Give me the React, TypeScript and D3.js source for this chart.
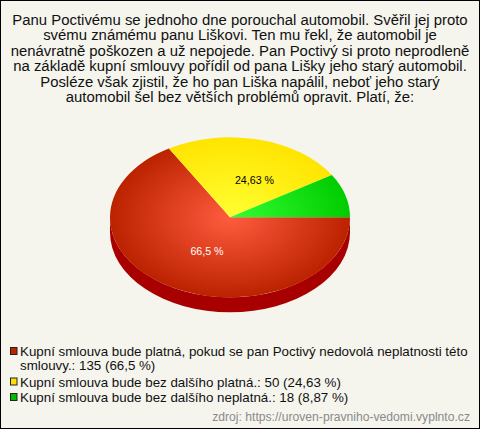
import React from "react";
import * as d3 from "d3";

const titleLines = [
  "Panu Poctivému se jednoho dne porouchal automobil. Svěřil jej proto",
  "svému známému panu Liškovi. Ten mu řekl, že automobil je",
  "nenávratně poškozen a už nepojede. Pan Poctivý si proto neprodleně",
  "na základě kupní smlouvy pořídil od pana Lišky jeho starý automobil.",
  "Posléze však zjistil, že ho pan Liška napálil, neboť jeho starý",
  "automobil šel bez větších problémů opravit. Platí, že:",
];
const values = [135, 50, 18];
const sliceLabels = ["66,5 %", "24,63 %", ""];
const legendLines = [
  ["Kupní smlouva bude platná, pokud se pan Poctivý nedovolá neplatnosti této", "smlouvy.: 135 (66,5 %)"],
  ["Kupní smlouva bude bez dalšího platná.: 50 (24,63 %)"],
  ["Kupní smlouva bude bez dalšího neplatná.: 18 (8,87 %)"],
];
const innerColors = ["#ff5c3e", "#ffff33", "#33ff33"];
const outerColors = ["#bb2200", "#ffe400", "#00cc00"];
const legendColors = ["#bb2200", "#ffdd00", "#00bb00"];
const labelColors = ["#ffffff", "#000000", "#000000"];
const source = "zdroj: https://uroven-pravniho-vedomi.vyplnto.cz";

const FONT = "'Liberation Sans', Arial, sans-serif";
const cx = 230, cy = 217.3, rx = 120, ry = 80, depth = 15;

export default function App() {
  const pie = d3.pie<number>().sort(null).startAngle(Math.PI / 2).endAngle(Math.PI * 2.5);
  const arcs = pie(values);
  const arc = d3.arc<d3.PieArcDatum<number>>().innerRadius(0).outerRadius(rx);
  const labelY = [255, 184];
  const labelX = [207, 254.5];
  const legendY = [356, 370, 386.5, 402];
  let lineIdx = 0;
  return (
    <svg width={480} height={429} style={{ position: "absolute", left: 0, top: 0 }} fontFamily={FONT}>
      <defs>
        {values.map((_, i) => (
          <radialGradient key={i} id={`g${i}`} gradientUnits="userSpaceOnUse" cx={0} cy={0} r={rx}>
            <stop offset="0" stopColor={innerColors[i]} />
            <stop offset="1" stopColor={outerColors[i]} />
          </radialGradient>
        ))}
      </defs>
      <rect x={0.5} y={0.5} width={479} height={428} fill="#f5f5ee" stroke="#000" strokeWidth={1} />
      <text textAnchor="middle" fontSize={14.9} fill="#111">
        {titleLines.map((l, i) => (
          <tspan key={i} x={240} y={25 + i * 15.4}>{l}</tspan>
        ))}
      </text>
      <path
        d={`M${cx - rx},${cy} A${rx},${ry} 0 0 0 ${cx + rx},${cy} L${cx + rx},${cy + depth} A${rx},${ry} 0 0 1 ${cx - rx},${cy + depth} Z`}
        fill="#a80000"
      />
      <g transform={`translate(${cx},${cy}) scale(1,${ry / rx})`}>
        {arcs.map((a, i) => (
          <path key={i} d={arc(a) ?? ""} fill={`url(#g${i})`} />
        ))}
      </g>
      {sliceLabels.map((s, i) =>
        s ? (
          <text key={i} x={labelX[i]} y={labelY[i]} textAnchor="middle" fontSize={10.67} fill={labelColors[i]}>{s}</text>
        ) : null
      )}
      {legendLines.map((lines, i) => {
        const y0 = legendY[lineIdx];
        const el = (
          <g key={i}>
            <rect x={10.5} y={y0 - 8.5} width={6.5} height={7} fill={legendColors[i]} stroke="#222" strokeWidth={1} />
            {lines.map((l, j) => (
              <text key={j} x={20} y={legendY[lineIdx + j]} fontSize={13.33} fill="#111">{l}</text>
            ))}
          </g>
        );
        lineIdx += lines.length;
        return el;
      })}
      <text x={470} y={421} textAnchor="end" fontSize={12.15} fill="#8a8a8a">{source}</text>
    </svg>
  );
}
